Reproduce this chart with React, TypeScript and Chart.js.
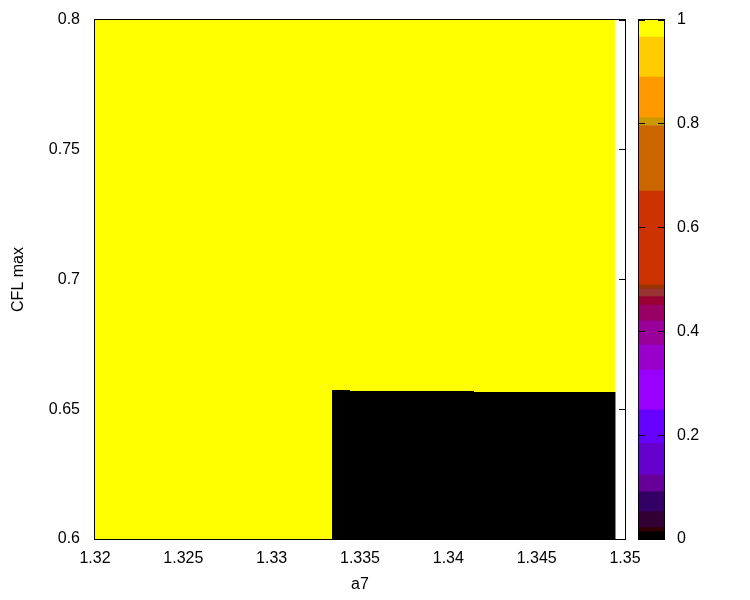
import React, { useEffect, useRef } from 'react';
import { Chart, registerables } from 'chart.js';

Chart.register(...registerables);

const FONT = '"Liberation Sans", Arial, Helvetica, sans-serif';

// Axes
const xLimits = [1.32, 1.35];
const yLimits = [0.6, 0.8];
const xTickValues = [1.32, 1.325, 1.33, 1.335, 1.34, 1.345, 1.35];
const xTickLabels = ['1.32', '1.325', '1.33', '1.335', '1.34', '1.345', '1.35'];
const yTickValues = [0.6, 0.65, 0.7, 0.75, 0.8];
const yTickLabels = ['0.6', '0.65', '0.7', '0.75', '0.8'];

// Map extent (value 1 everywhere it is not 0)
const mapX = [1.32, 1.349472];
const mapTop = [0.8, 0.8];

// Region with value 0 (stepped upper boundary)
const zeroX = [1.333415, 1.334434, 1.341453, 1.348472, 1.349472];
const zeroTop = [0.657803, 0.657418, 0.657033, 0.656647, 0.656647];

// Colour bar
const cbStops = [0, 0.0141, 0.0218, 0.0526, 0.0911, 0.1233, 0.1844, 0.2486, 0.3256, 0.3738, 0.42, 0.4509, 0.4669, 0.4817, 0.4894, 0.6705, 0.7963, 0.8118, 0.8902, 0.9672, 1];
const cbColors = ['#000000', '#330000', '#330033', '#330066', '#660099', '#6600CC', '#6600FF', '#9900FF', '#9900CC', '#990099', '#990066', '#990033', '#993333', '#993300', '#CC3300', '#CC6600', '#CC9900', '#FF9900', '#FFCC00', '#FFFF00'];
const cbTickValues = [0, 0.2, 0.4, 0.6, 0.8, 1];
const cbTickLabels = ['0', '0.2', '0.4', '0.6', '0.8', '1'];

const mainFrame = {
  id: 'mainFrame',
  beforeDatasetsDraw(chart: any) {
    const { ctx, chartArea: a, scales } = chart;
    ctx.save();
    ctx.strokeStyle = '#000';
    ctx.lineWidth = 1;
    ctx.beginPath();
    for (const v of yTickValues) {
      const y = Math.floor(scales.y.getPixelForValue(v)) + 0.5;
      ctx.moveTo(a.left, y); ctx.lineTo(a.left + 6, y);
      ctx.moveTo(a.right - 6, y); ctx.lineTo(a.right, y);
    }
    for (const v of xTickValues) {
      const x = Math.floor(scales.x.getPixelForValue(v)) + 0.5;
      ctx.moveTo(x, a.bottom); ctx.lineTo(x, a.bottom - 6);
      ctx.moveTo(x, a.top); ctx.lineTo(x, a.top + 6);
    }
    ctx.stroke();
    ctx.restore();
  },
  afterDatasetsDraw(chart: any) {
    const { ctx, chartArea: a } = chart;
    ctx.save();
    ctx.strokeStyle = '#000';
    ctx.lineWidth = 1;
    ctx.strokeRect(a.left - 0.5, a.top - 0.5, a.right - a.left + 1, a.bottom - a.top + 1);
    ctx.restore();
  },
};

const cbFrame = {
  id: 'cbFrame',
  afterDatasetsDraw(chart: any) {
    const { ctx, chartArea: a, scales } = chart;
    ctx.save();
    ctx.strokeStyle = '#000';
    ctx.lineWidth = 1;
    ctx.beginPath();
    for (const v of cbTickValues) {
      const y = Math.floor(scales.y.getPixelForValue(v)) + 0.5;
      ctx.moveTo(a.left, y); ctx.lineTo(a.left + 6, y);
      ctx.moveTo(a.right - 6, y); ctx.lineTo(a.right, y);
    }
    ctx.stroke();
    ctx.strokeRect(a.left - 0.5, a.top - 0.5, a.right - a.left + 1, a.bottom - a.top + 1);
    ctx.restore();
  },
};

export default function App() {
  const mainRef = useRef<HTMLCanvasElement>(null);
  const cbRef = useRef<HTMLCanvasElement>(null);

  useEffect(() => {
    const font = { family: FONT, size: 16 };
    const main = new Chart(mainRef.current as HTMLCanvasElement, {
      type: 'line',
      data: {
        datasets: [
          {
            label: 'zero',
            data: zeroX.map((x, i) => ({ x, y: zeroTop[i] })),
            stepped: 'after',
            fill: 'start',
            backgroundColor: cbColors[0],
            borderColor: 'rgba(0,0,0,0)',
            borderWidth: 0,
            pointRadius: 0,
            order: 1,
          } as any,
          {
            label: 'one',
            data: mapX.map((x, i) => ({ x, y: mapTop[i] })),
            fill: 'start',
            backgroundColor: cbColors[cbColors.length - 1],
            borderColor: 'rgba(0,0,0,0)',
            borderWidth: 0,
            pointRadius: 0,
            order: 2,
          } as any,
        ],
      },
      options: {
        animation: false,
        responsive: false,
        devicePixelRatio: 1,
        layout: { padding: { left: 0, right: 125, top: 20, bottom: 0 } },
        plugins: { legend: { display: false }, tooltip: { enabled: false } },
        scales: {
          x: {
            type: 'linear',
            min: xLimits[0],
            max: xLimits[1],
            afterBuildTicks: (s: any) => { s.ticks = xTickValues.map((value) => ({ value })); },
            afterFit: (s: any) => { s.height = 61; },
            ticks: {
              callback: (_v: any, i: number) => xTickLabels[i],
              autoSkip: false,
              maxRotation: 0,
              font,
              color: '#000',
              padding: 10,
            },
            grid: { display: false, drawTicks: false },
            border: { display: false },
            title: { display: true, text: 'a7', font, color: '#000', padding: { top: 0, bottom: 6 } },
          },
          y: {
            type: 'linear',
            min: yLimits[0],
            max: yLimits[1],
            afterBuildTicks: (s: any) => { s.ticks = yTickValues.map((value) => ({ value })); },
            afterFit: (s: any) => { s.width = 95; s.paddingTop = 0; s.paddingBottom = 0; },
            ticks: {
              callback: (_v: any, i: number) => yTickLabels[i],
              autoSkip: false,
              font,
              color: '#000',
              padding: 15,
            },
            grid: { display: false, drawTicks: false },
            border: { display: false },
            title: { display: true, text: 'CFL max', font, color: '#000', padding: { top: 9, bottom: 0 } },
          },
        },
      } as any,
      plugins: [mainFrame],
    });

    const cb = new Chart(cbRef.current as HTMLCanvasElement, {
      type: 'bar',
      data: {
        labels: [''],
        datasets: cbColors.map((c, i) => ({
          label: 'band' + i,
          data: [[cbStops[i], cbStops[i + 1]]],
          backgroundColor: c,
          borderWidth: 0,
          grouped: false,
          barPercentage: 1,
          categoryPercentage: 1,
        })) as any,
      },
      options: {
        animation: false,
        responsive: false,
        devicePixelRatio: 1,
        layout: { padding: { left: 9, right: 0, top: 20, bottom: 61 } },
        plugins: { legend: { display: false }, tooltip: { enabled: false } },
        scales: {
          x: { display: false },
          y: {
            type: 'linear',
            position: 'right',
            min: 0,
            max: 1,
            afterBuildTicks: (s: any) => { s.ticks = cbTickValues.map((value) => ({ value })); },
            afterFit: (s: any) => { s.width = 86; s.paddingTop = 0; s.paddingBottom = 0; },
            ticks: {
              callback: (_v: any, i: number) => cbTickLabels[i],
              autoSkip: false,
              font,
              color: '#000',
              padding: 13,
            },
            grid: { display: false, drawTicks: false },
            border: { display: false },
          },
        },
      } as any,
      plugins: [cbFrame],
    });

    return () => {
      main.destroy();
      cb.destroy();
    };
  }, []);

  return (
    <div style={{ position: 'fixed', left: 0, top: 0, width: 750, height: 600, background: '#fff' }}>
      <canvas ref={mainRef} width={750} height={600} style={{ position: 'absolute', left: 0, top: 0, width: 750, height: 600 }} />
      <canvas ref={cbRef} width={120} height={600} style={{ position: 'absolute', left: 630, top: 0, width: 120, height: 600 }} />
    </div>
  );
}
